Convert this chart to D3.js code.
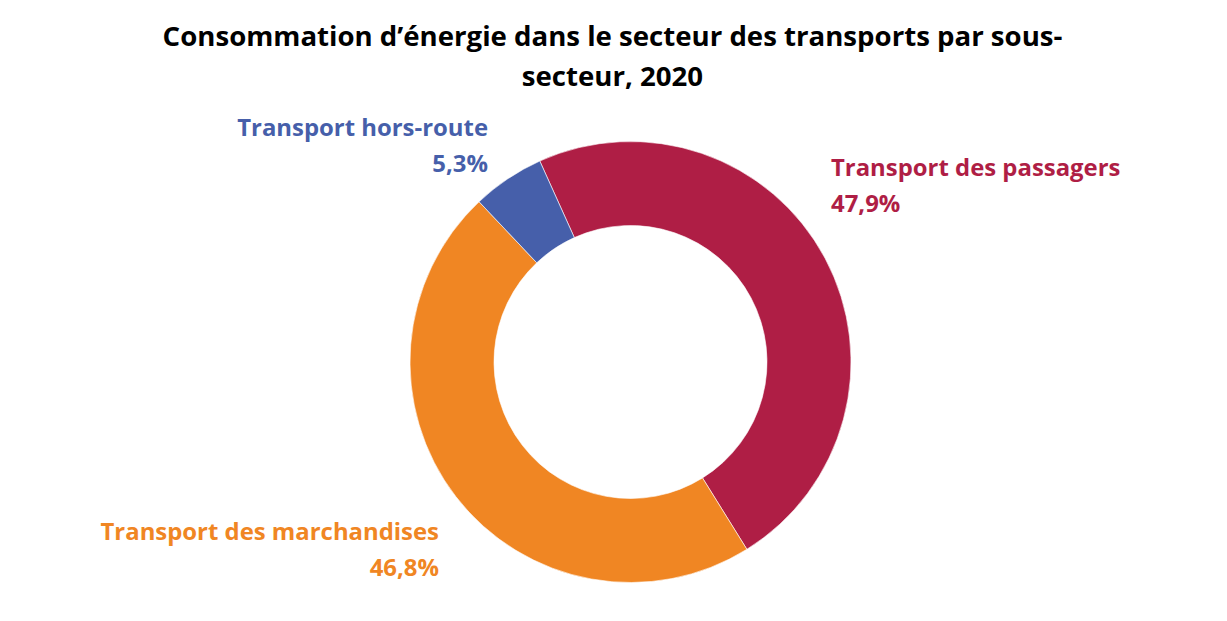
<!DOCTYPE html>
<html>
<head>
<meta charset="utf-8">
<script src="https://cdn.jsdelivr.net/npm/d3@7"></script>
<style>
  body { margin: 0; background: #fff; }
  text { font-family: "Open Sans", Lato, sans-serif; font-weight: 700; font-variant-ligatures: none; }
</style>
</head>
<body>
<div id="chart"></div>
<script>
// data
var categories = ["Transport des passagers", "Transport des marchandises", "Transport hors-route"];
var shares = [47.9, 46.8, 5.3];
var colors = ["#AF1E45", "#F08623", "#465FAA"];
var titleLines = ["Consommation d\u2019énergie dans le secteur des transports par sous-", "secteur, 2020"];

var width = 1227,
    height = 621,
    cx = 630.5, cy = 362,
    outerR = 220.5, innerR = 136.5;

var svg = d3.select("#chart").append("svg")
    .attr("width", width)
    .attr("height", height);

// title
svg.append("g").selectAll("text")
    .data(titleLines)
    .enter().append("text")
        .attr("x", width / 2 - 1)
        .attr("y", (d, i) => 46 + i * 40)
        .attr("text-anchor", "middle")
        .attr("font-size", 27.6)
        .attr("fill", "#000")
        .text(d => d);

// the ring; first slice starts a little left of 12 o'clock, like the excel original
var pie = d3.pie().sort(null).startAngle(-0.424).endAngle(-0.424 + 2 * Math.PI);
var arc = d3.arc().innerRadius(innerR).outerRadius(outerR);

svg.append("g")
    .attr("transform", "translate(" + cx + "," + cy + ")")
    .selectAll("path")
    .data(pie(shares))
    .enter().append("path")
        .attr("d", arc)
        .attr("fill", (d, i) => colors[i])
        .attr("stroke", "#fff")
        .attr("stroke-width", 0.6);

// labels: [x, y of first line, anchor]
var labelPos = [[831, 176, "start"], [439, 540, "end"], [488, 136, "end"]];
var fmt = v => d3.format(".1f")(v).replace(".", ",") + "%";

var labels = svg.append("g").selectAll("text")
    .data(categories)
    .enter().append("text")
        .attr("x", (d, i) => labelPos[i][0])
        .attr("y", (d, i) => labelPos[i][1])
        .attr("text-anchor", (d, i) => labelPos[i][2])
        .attr("font-size", 23.9)
        .attr("fill", (d, i) => colors[i]);

labels.append("tspan").text(d => d);
labels.append("tspan")
    .attr("x", (d, i) => labelPos[i][0])
    .attr("dy", 36)
    .text((d, i) => fmt(shares[i]));
</script>
</body>
</html>
